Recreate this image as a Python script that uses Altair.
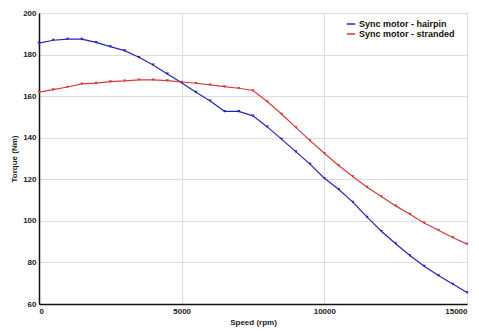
import altair as alt
import pandas as pd

speed = [i * 500 for i in range(31)]
hairpin = [185.5, 186.9, 187.4, 187.4, 185.9, 183.8, 181.9, 178.7, 175.0, 170.7,
           166.5, 161.9, 157.7, 152.7, 152.7, 150.5, 145.2, 139.3, 133.3, 127.3,
           120.5, 115.2, 109.0, 101.8, 95.0, 89.0, 83.3, 78.2, 73.7, 69.6, 65.5]
stranded = [161.9, 163.1, 164.4, 165.9, 166.3, 167.0, 167.3, 167.8, 167.8, 167.5,
            166.8, 166.2, 165.4, 164.6, 163.8, 162.7, 157.4, 151.4, 145.0, 138.6,
            132.5, 126.6, 121.3, 116.2, 111.7, 107.2, 103.2, 99.0, 95.5, 92.0, 88.8]
series_names = ["Sync motor - hairpin", "Sync motor - stranded"]
series_colors = ["#2626b4", "#d43a3a"]
x_ticks = [0, 5000, 10000, 15000]
y_ticks = [60, 80, 100, 120, 140, 160, 180, 200]

rows = []
for s, t in zip(speed, hairpin):
    rows.append({"Speed": s, "Torque": t, "Series": series_names[0]})
for s, t in zip(speed, stranded):
    rows.append({"Speed": s, "Torque": t, "Series": series_names[1]})
df = pd.DataFrame(rows)

chart = alt.Chart(df).mark_line(
    strokeWidth=1.2,
    point=alt.OverlayMarkDef(size=10, filled=True, shape="triangle-down"),
).encode(
    x=alt.X("Speed:Q", scale=alt.Scale(domain=[0, 15000], nice=False),
            axis=alt.Axis(values=x_ticks, title="Speed (rpm)", format="d")),
    y=alt.Y("Torque:Q", scale=alt.Scale(domain=[60, 200], nice=False, zero=False),
            axis=alt.Axis(values=y_ticks, title="Torque (Nm)")),
    color=alt.Color("Series:N", scale=alt.Scale(domain=series_names, range=series_colors),
                    legend=alt.Legend(title=None, orient="none", legendX=307, legendY=6,
                                      symbolType="stroke", symbolSize=70,
                                      symbolStrokeWidth=1.5, labelFontSize=9,
                                      labelFont="Liberation Sans", labelFontWeight="bold",
                                      rowPadding=0, labelColor="#111", labelOffset=3)),
).properties(
    width=428, height=291,
    autosize=alt.AutoSizeParams(type="none"),
    padding={"left": 31, "top": 5, "right": 4, "bottom": 29},
).configure_view(
    stroke="#222", strokeWidth=1
).configure_axis(
    labelFont="Liberation Sans", labelFontSize=8, labelFontWeight="bold", labelColor="#222",
    titleFont="Liberation Sans", titleFontSize=8, titleFontWeight="bold", titleColor="#222",
    gridColor="#dddddd", gridWidth=1, domainColor="#111", domainWidth=1.5,
    ticks=False, labelPadding=3,
).configure_axisY(
    titlePadding=4
).configure_axisX(
    titlePadding=3
)

chart.save("out.html", embed_options={"renderer": "svg", "actions": False})
